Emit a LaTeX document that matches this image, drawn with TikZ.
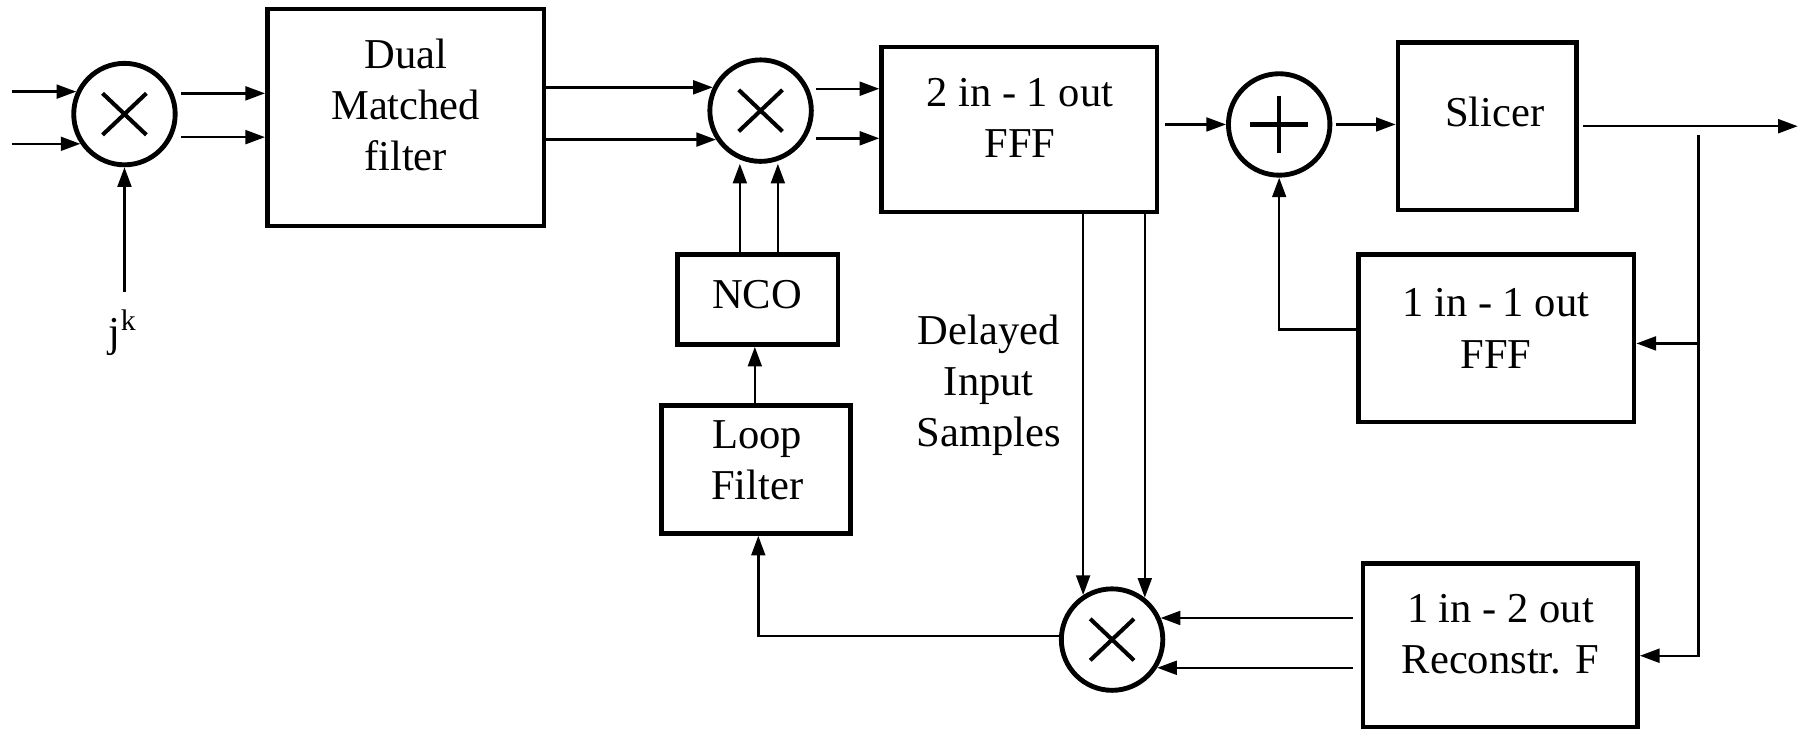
\documentclass[tikz,border=0pt]{standalone}
\usepackage{fontspec}
\setmainfont{Liberation Serif}
\usetikzlibrary{arrows.meta,calc}
\begin{document}
\begin{tikzpicture}[x=0.01cm, y=-0.01cm,
  box/.style={draw, line width=1.1pt, inner sep=0pt},
  txt/.style={align=center, inner sep=0pt, font=\fontsize{10.5}{12.6}\selectfont},
  arr/.style={line width=0.6pt, -{Triangle[length=0.17cm,width=0.12cm]}},
  ln/.style={line width=0.6pt},
  mult/.style={circle, draw, line width=1.2pt, minimum size=0.88cm, inner sep=0pt,
    path picture={\draw[line width=1pt]
      ([shift={(-0.19cm,-0.18cm)}]path picture bounding box.center) -- ([shift={(0.19cm,0.18cm)}]path picture bounding box.center)
      ([shift={(-0.19cm,0.18cm)}]path picture bounding box.center) -- ([shift={(0.19cm,-0.18cm)}]path picture bounding box.center);}},
  plus/.style={circle, draw, line width=1.2pt, minimum size=0.88cm, inner sep=0pt,
    path picture={\draw[line width=1.1pt]
      ([shift={(-0.25cm,0cm)}]path picture bounding box.center) -- ([shift={(0.25cm,0cm)}]path picture bounding box.center)
      ([shift={(0cm,0.25cm)}]path picture bounding box.center) -- ([shift={(0cm,-0.25cm)}]path picture bounding box.center);}}
]
\useasboundingbox (0,0) rectangle (1568,633);

% nodes
\node[mult] (m1) at (108,99) {};
\node[box, minimum width=2.40cm, minimum height=1.88cm] (dual) at (352,102) {};
\node[txt] (dualt) at (352,91) {Dual\\Matched\\filter};
\node[mult] (m2) at (660,96) {};
\node[box, minimum width=2.39cm, minimum height=1.43cm] (fff) at (884.5,112.5) {};
\node[txt] (ffft) at (885,102) {2 in - 1 out\\FFF};
\node[box, minimum width=1.39cm, minimum height=0.78cm] (nco) at (657.5,260) {};
\node[txt] (ncot) at (657,256) {NCO};
\node[box, minimum width=1.64cm, minimum height=1.11cm] (loop) at (656,407.5) {};
\node[txt] (loopt) at (657,399) {Loop\\Filter};
\node[txt] (delay) at (858,334) {Delayed\\Input\\Samples};
\node[mult] (m3) at (965,555) {};
\node[plus] (pl) at (1110,108) {};
\node[box, minimum width=1.55cm, minimum height=1.45cm] (slicer) at (1290.5,109.5) {};
\node[txt] (slicert) at (1297,97) {Slicer};
\node[box, minimum width=2.39cm, minimum height=1.45cm] (fb) at (1298.5,293.5) {};
\node[txt] (fbt) at (1298,285) {1 in - 1 out\\FFF};
\node[box, minimum width=2.38cm, minimum height=1.42cm] (rec) at (1302,560) {};
\node[txt] (rect) at (1302,550) {1 in - 2 out\\Reconstr. F};
\node[txt] (jk) at (107,289) {j\textsuperscript{k}};

% free ends
\coordinate (i1) at (m1.155 -| 10,0);
\coordinate (i2) at (m1.214 -| 10,0);
\coordinate (out) at (slicer.east -| 1560,0);
\coordinate (tap) at (1474,117);
\coordinate (tapb) at (1474,569);

% connectors
\draw[arr] (i1) -- (m1.155);
\draw[arr] (i2) -- (m1.214);
\draw[arr] (m1.south |- 0,253) -- (m1.south);
\draw[arr] ($(m1.east |- 0,81)+(3,0)$) -- (dual.west |- 0,81);
\draw[arr] ($(m1.east |- 0,119)+(3,0)$) -- (dual.west |- 0,119);
\draw[arr] (m2.154 -| dual.east) -- (m2.154);
\draw[arr] (m2.213 -| dual.east) -- (m2.213);
\draw[arr] ($(m2.east |- 0,77)+(2,0)$) -- (fff.west |- 0,77);
\draw[arr] ($(m2.east |- 0,120)+(2,0)$) -- (fff.west |- 0,120);
\draw[arr] (nco.north -| 642,0) -- (m2.south -| 642,0);
\draw[arr] (nco.north -| 675,0) -- (m2.south -| 675,0);
\draw[arr] (loop.north -| 655,0) -- (nco.south -| 655,0);
\draw[arr] (m3.west |- 0,552) -| (loop.south -| 658,0);
\draw[arr] (m3.123 |- fff.south) -- (m3.123);
\draw[arr] (m3.52 |- fff.south) -- (m3.52);
\draw[arr] ($(rec.west |- m3.24)+(-7,0)$) -- (m3.24);
\draw[arr] ($(rec.west |- m3.328)+(-7,0)$) -- (m3.328);
\draw[arr] ($(fff.east |- pl.west)+(5,0)$) -- (pl.west);
\draw[arr] ($(pl.east)+(3,0)$) -- (slicer.west |- pl.east);
\draw[arr] ($(slicer.east)+(4,0)$) -- (out);
\draw[arr] (tap) -- (tapb) -- (tapb -| rec.east);
\draw[arr] (tap |- 0,298) -- (fb.east |- 0,298);
\draw[arr] (fb.west |- 0,286) -| (pl.south);
\end{tikzpicture}
\end{document}
